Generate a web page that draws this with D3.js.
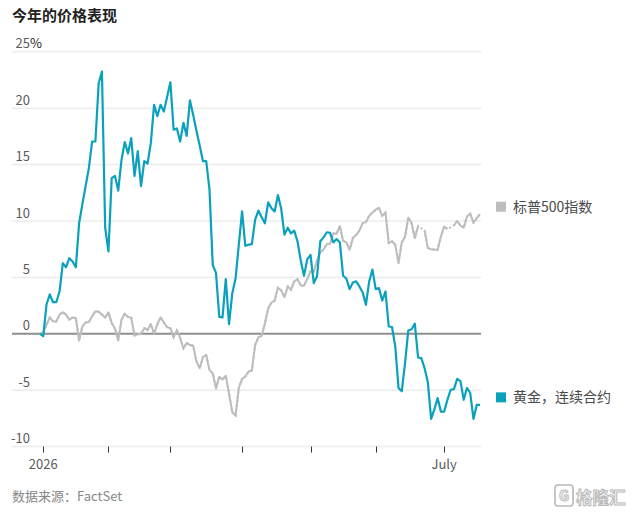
<!DOCTYPE html>
<html><head><meta charset="utf-8">
<script src="https://cdn.jsdelivr.net/npm/d3@7"></script>
<style>
body{margin:0;background:#fff;}
text{font-family:"Noto Sans CJK SC","Noto Sans",sans-serif;}
</style>
</head><body>
<svg id="c" width="634" height="513"></svg>
<script>
// Percent change since start of year, one value per trading day (Dec 31 .. mid July)
const goldValues = [
  0, -0.2, 2.6, 3.5, 2.8, 2.8, 3.75, 6.27, 5.9, 6.7,
  6.4, 5.9, 9.8, 11.5, 13.1, 14.7, 17.05, 17.05, 22.2, 23.25,
  9.4, 7.3, 13.8, 14.0, 12.7, 15.4, 17.0, 16.0, 17.35, 14.0,
  16.2, 13.1, 15.3, 15.1, 16.9, 20.3, 19.3, 20.3, 19.7, 21.0,
  22.3, 18.1, 18.2, 17.05, 18.7, 17.55, 20.7, 19.4, 18.0, 16.7,
  15.3, 15.3, 12.8, 6.1, 5.4, 1.5, 1.45, 4.85, 0.86, 3.6,
  4.9, 7.9, 10.85, 7.8, 7.9, 7.95, 10.1, 10.93, 10.34, 9.8,
  11.65, 11.14, 10.85, 12.3, 11.1, 8.8, 9.4, 8.9, 9.15, 8.2,
  6.5, 5.15, 6.6, 7.0, 4.5, 5.1, 8.2, 8.55, 9.0, 8.95,
  8.1, 8.4, 8.1, 5.15, 4.9, 3.96, 4.55, 4.65, 4.2, 3.67,
  2.57, 4.65, 5.7, 3.96, 4.05, 2.95, 3.75, 0.65, 0.6, -1.1,
  -4.8, -5.1, -2.6, 0.3, 0.4, 0.9, -2.1, -2.15, -3.05, -4.3,
  -7.55, -6.7, -5.7, -6.9, -6.9, -5.85, -4.96, -4.9, -4.0, -4.2,
  -5.85, -4.8, -5.25, -7.55, -6.3, -6.3
];
const spxValues = [
  0, 0.15, 0.8, 1.45, 1.1, 1.1, 1.7, 1.9, 1.7, 1.25,
  1.45, 1.4, -0.6, 0.65, 1.0, 1.05, 1.55, 2.0, 1.95, 1.7,
  1.45, 1.9, 0.95, 0.45, -0.6, 1.25, 1.77, 1.5, 1.42, -0.15,
  -0.05, 0.0, 0.5, 0.32, 0.87, 0.0, 0.85, 1.46, 1.0, 0.58,
  0.5, -0.32, 0.32, -0.35, -1.3, -0.8, -1.0, -1.06, -2.45, -3.05,
  -2.05, -1.9, -3.22, -3.5, -4.85, -3.8, -4.05, -3.72, -5.3, -6.95,
  -7.25, -4.8, -4.0, -3.78, -3.34, -3.25, -1.0, -0.3, -0.18, 0.9,
  2.24, 2.77, 2.95, 4.08, 3.85, 3.25, 4.2, 3.9, 4.64, 4.85,
  4.3, 4.26, 4.87, 5.56, 5.47, 6.5, 7.2, 7.48, 7.97, 7.98,
  8.9, 8.87, 9.55, 8.24, 8.1, 7.45, 8.5, 8.75, 9.15, 9.81,
  9.9, 10.45, 10.75, 11.0, 11.17, 10.45, 10.75, 8.04, 8.2, 7.9,
  6.27, 8.1, 8.6, 10.3, 9.81, 8.48, 9.55, null, 9.15, 7.6,
  7.5, 7.45, 7.45, 8.63, 9.51, 9.28, null, 9.6, 10.0, 9.6,
  9.4, 10.4, 10.65, 9.85, 10.25, 10.6
];
const yTicks = [-10, -5, 0, 5, 10, 15, 20, 25];
const xTickIndex = [1, 21, 40, 62, 83, 103, 124];
const xTickLabels = ["2026", "", "", "", "", "", "July"];
const seriesNames = ["标普500指数", "黄金，连续合约"];
const seriesColors = ["#bdbdbd", "#0aa1bc"];
const titleText = "今年的价格表现";
const sourceText = "数据来源：FactSet";

const svg = d3.select("#c");
const x = d3.scaleLinear().domain([0, goldValues.length - 1]).range([40, 480]);
const y = d3.scaleLinear().domain([-10, 25]).range([446.6, 51.8]);
const gridX0 = 12, gridX1 = 481;

svg.append("text").attr("x", 12).attr("y", 20.5)
  .attr("font-size", 15).attr("font-weight", 700).attr("fill", "#222")
  .text(titleText);

// gridlines
svg.append("g").selectAll("line").data(yTicks.filter(d => d !== 0)).join("line")
  .attr("x1", gridX0).attr("x2", gridX1)
  .attr("y1", d => y(d)).attr("y2", d => y(d))
  .attr("stroke", "#ececec").attr("stroke-width", 1.5);

// y tick labels
const yl = svg.append("g");
yTicks.forEach(d => {
  yl.append("text").attr("x", 30).attr("y", y(d) - 3.5)
    .attr("text-anchor", "end").attr("font-size", 13).attr("fill", "#5a5a5a")
    .text(d);
  if (d === 25) {
    yl.append("text").attr("x", 30).attr("y", y(d) - 3.5)
      .attr("font-size", 13).attr("fill", "#222").text("%");
  }
});

// x axis ticks
const xa = svg.append("g");
xa.selectAll("line").data(xTickIndex).join("line")
  .attr("x1", d => Math.round(x(d)) + 0.5).attr("x2", d => Math.round(x(d)) + 0.5)
  .attr("y1", y(-10)).attr("y2", y(-10) + 6)
  .attr("stroke", "#333").attr("stroke-width", 1);
xa.selectAll("text").data(xTickIndex).join("text")
  .attr("x", d => x(d)).attr("y", 469)
  .attr("text-anchor", "middle").attr("font-size", 13).attr("fill", "#5a5a5a")
  .text((d, i) => xTickLabels[i]);

// zero line
svg.append("line").attr("x1", gridX0).attr("x2", gridX1)
  .attr("y1", y(0)).attr("y2", y(0))
  .attr("stroke", "#8f8f8f").attr("stroke-width", 2);

const line = d3.line().defined(d => d.v !== null).x(d => x(d.i)).y(d => y(d.v));
const spxData = spxValues.map((v, i) => ({i, v}));
const goldData = goldValues.map((v, i) => ({i, v}));

// bridged gaps (dotted) then solid segments
svg.append("path").datum(spxData.filter(d => d.v !== null))
  .attr("d", line).attr("fill", "none").attr("stroke", seriesColors[0])
  .attr("stroke-width", 2).attr("stroke-dasharray", "2,2.5");
svg.append("path").datum(spxData).attr("d", line)
  .attr("fill", "none").attr("stroke", seriesColors[0])
  .attr("stroke-width", 2).attr("stroke-linejoin", "round");
svg.append("path").datum(goldData).attr("d", line)
  .attr("fill", "none").attr("stroke", seriesColors[1])
  .attr("stroke-width", 2.2).attr("stroke-linejoin", "round");

// legend
const lastVals = [spxValues[spxValues.length - 1], goldValues[goldValues.length - 1]];
seriesNames.forEach((name, i) => {
  const cy = y(lastVals[i]) - 7.5;
  svg.append("rect").attr("x", 496).attr("y", cy - 5).attr("width", 10).attr("height", 10)
    .attr("fill", seriesColors[i]);
  svg.append("text").attr("x", 513).attr("y", cy + 5).attr("font-size", 14)
    .attr("fill", "#4a4a4a").text(name);
});

// source
svg.append("text").attr("x", 12).attr("y", 501).attr("font-size", 13)
  .attr("fill", "#888").text(sourceText);

// watermark
const wm = svg.append("g").attr("opacity", 0.8);
wm.append("rect").attr("x", 555).attr("y", 485).attr("width", 18).attr("height", 21).attr("rx", 3)
  .attr("fill", "none").attr("stroke", "#a8a8a8").attr("stroke-width", 1.6);
wm.append("text").attr("x", 564).attr("y", 501).attr("text-anchor", "middle")
  .attr("font-size", 14).attr("font-weight", 700).attr("fill", "none")
  .attr("stroke", "#a8a8a8").attr("stroke-width", 1).text("G");
wm.append("text").attr("x", 576).attr("y", 503.5).attr("font-size", 16.5).attr("font-weight", 700)
  .attr("fill", "#fff").attr("stroke", "#a8a8a8").attr("stroke-width", 1).text("格隆汇");
</script>
</body></html>
